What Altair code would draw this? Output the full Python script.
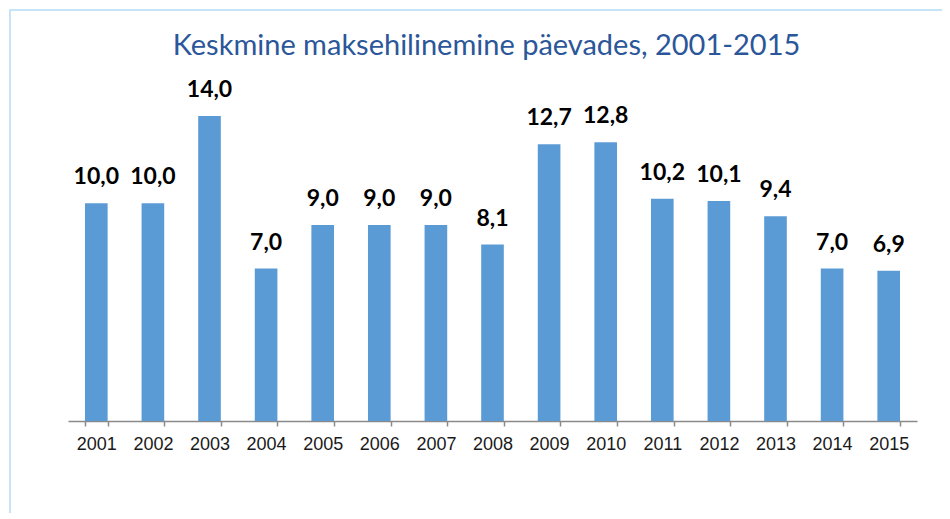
import altair as alt
import pandas as pd

years = ["2001", "2002", "2003", "2004", "2005", "2006", "2007", "2008",
         "2009", "2010", "2011", "2012", "2013", "2014", "2015"]
values = [10.0, 10.0, 14.0, 7.0, 9.0, 9.0, 9.0, 8.1,
          12.7, 12.8, 10.2, 10.1, 9.4, 7.0, 6.9]
labels = ["10,0", "10,0", "14,0", "7,0", "9,0", "9,0", "9,0", "8,1",
          "12,7", "12,8", "10,2", "10,1", "9,4", "7,0", "6,9"]
title_text = "Keskmine maksehilinemine päevades, 2001-2015"

df = pd.DataFrame({"year": years, "value": values, "label": labels})

W, H = 849, 305
PL, PT, PR, PB = 60, 108, 25, 92

x_enc = alt.X("year:N", sort=years,
              scale=alt.Scale(paddingInner=0.6, paddingOuter=0.3),
              axis=alt.Axis(title=None, labelAngle=0, tickBand="extent",
                            labelFont="Liberation Sans", labelFontSize=18,
                            labelColor="#1a1a1a", labelPadding=9,
                            domainColor="#8a8a8a", domainWidth=1.5,
                            tickColor="#8a8a8a", tickWidth=1.5, tickSize=5))
y_enc = alt.Y("value:Q", scale=alt.Scale(domain=[0, 14], nice=False, zero=True),
              axis=None)

base = alt.Chart(df)

bars = base.mark_bar(color="#5B9BD5", clip=False).encode(x=x_enc, y=y_enc)

text = base.mark_text(font="Lato", fontWeight="bold", fontSize=23,
                      color="#000000", baseline="alphabetic", dy=-19).encode(
    x=alt.X("year:N", sort=years), y="value:Q", text="label:N")

title = alt.Chart(pd.DataFrame({"t": [title_text]})).mark_text(
    font="Lato", fontSize=29, color="#2B579A", baseline="alphabetic",
    align="center").encode(
    x=alt.value(418.5), y=alt.value(-61), text="t:N")

frame = alt.Chart(pd.DataFrame({"k": [0]})).mark_rect(
    fill=None, stroke="#C5E4F8", strokeWidth=2, clip=False).encode(
    x=alt.value(-58), x2=alt.value(W + PR + 10),
    y=alt.value(-106), y2=alt.value(H + PB + 10))

chart = alt.layer(frame, bars, text, title).properties(
    width=W, height=H,
    autosize=alt.AutoSizeParams(type="none"),
    padding={"left": PL, "top": PT, "right": PR, "bottom": PB},
    background="white",
).configure_view(stroke=None)

chart.save("out.html", embed_options={"renderer": "svg", "actions": False})
